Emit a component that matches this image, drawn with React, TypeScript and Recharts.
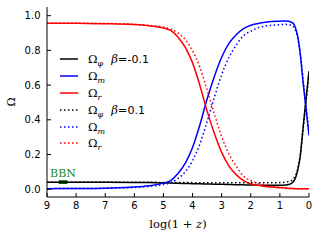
import { LineChart, Line, XAxis, YAxis, ReferenceArea, Legend } from 'recharts';

// log(1+z) sample positions
const logZ = [9, 8, 7, 6, 5.5, 5, 4.75, 4.5, 4.25, 4, 3.75, 3.5, 3.25, 3, 2.75, 2.5, 2.25, 2, 1.75, 1.5, 1.25, 1, 0.8, 0.6, 0.5, 0.4, 0.3, 0.2, 0.1, 0];

// beta = -0.1 (solid)
const omegaPhiNeg = [0.040, 0.040, 0.040, 0.039, 0.038, 0.036, 0.035, 0.034, 0.033, 0.032, 0.031, 0.030, 0.029, 0.028, 0.027, 0.026, 0.025, 0.024, 0.023, 0.022, 0.022, 0.022, 0.024, 0.034, 0.052, 0.10, 0.19, 0.36, 0.52, 0.68];
const omegaMNeg = [0.003, 0.004, 0.006, 0.012, 0.020, 0.035, 0.050, 0.090, 0.150, 0.240, 0.370, 0.520, 0.650, 0.760, 0.840, 0.890, 0.925, 0.945, 0.955, 0.962, 0.966, 0.968, 0.970, 0.962, 0.945, 0.890, 0.780, 0.610, 0.460, 0.310];
const omegaRNeg = [0.957, 0.956, 0.954, 0.949, 0.942, 0.929, 0.915, 0.876, 0.817, 0.728, 0.599, 0.450, 0.321, 0.212, 0.133, 0.084, 0.050, 0.031, 0.022, 0.016, 0.012, 0.009, 0.006, 0.004, 0.003, 0.003, 0.002, 0.002, 0.002, 0.002];

// beta = 0.1 (dotted)
const omegaPhiPos = [0.040, 0.040, 0.040, 0.040, 0.040, 0.039, 0.039, 0.038, 0.038, 0.038, 0.037, 0.037, 0.037, 0.037, 0.037, 0.037, 0.037, 0.037, 0.037, 0.037, 0.037, 0.038, 0.041, 0.050, 0.068, 0.110, 0.200, 0.350, 0.510, 0.670];
const omegaMPos = [0.003, 0.004, 0.005, 0.010, 0.016, 0.027, 0.038, 0.062, 0.100, 0.165, 0.260, 0.390, 0.530, 0.660, 0.760, 0.830, 0.885, 0.910, 0.930, 0.940, 0.945, 0.948, 0.950, 0.945, 0.928, 0.880, 0.780, 0.630, 0.480, 0.330];
const omegaRPos = [0.957, 0.956, 0.955, 0.950, 0.944, 0.934, 0.923, 0.900, 0.862, 0.797, 0.703, 0.573, 0.433, 0.303, 0.203, 0.133, 0.075, 0.050, 0.033, 0.023, 0.016, 0.011, 0.008, 0.005, 0.004, 0.003, 0.003, 0.002, 0.002, 0.002];

const xTicks = [9, 8, 7, 6, 5, 4, 3, 2, 1, 0];
const yTicks = [0, 0.2, 0.4, 0.6, 0.8, 1.0];
const bbnRange = [8.6, 8.3];
const bbnLevel = [0.03, 0.052];

const xMinorTicks: number[] = [];
for (let i = 1; i < 45; i++) if (i % 5 !== 0) xMinorTicks.push(i / 5);

const data = logZ.map((x, i) => ({
  x,
  phiNeg: omegaPhiNeg[i],
  mNeg: omegaMNeg[i],
  rNeg: omegaRNeg[i],
  phiPos: omegaPhiPos[i],
  mPos: omegaMPos[i],
  rPos: omegaRPos[i],
}));

const series = [
  { key: 'phiNeg', sub: 'φ', beta: '-0.1', color: '#000000', dash: undefined },
  { key: 'mNeg', sub: 'm', beta: null, color: '#0000ff', dash: undefined },
  { key: 'rNeg', sub: 'r', beta: null, color: '#ff0000', dash: undefined },
  { key: 'phiPos', sub: 'φ', beta: '0.1', color: '#000000', dash: '1.5 2.5' },
  { key: 'mPos', sub: 'm', beta: null, color: '#0000ff', dash: '1.5 2.5' },
  { key: 'rPos', sub: 'r', beta: null, color: '#ff0000', dash: '1.5 2.5' },
];

const serif = 'DejaVu Serif';
const sans = 'DejaVu Sans';

const renderLegend = () => (
  <div style={{ fontFamily: serif, fontSize: 11.5, color: '#000' }}>
    {series.map((s) => (
      <div key={s.key} style={{ display: 'flex', alignItems: 'center', height: 16.8, whiteSpace: 'nowrap' }}>
        <svg width={18} height={4} style={{ display: 'block' }}>
          <line x1={0} y1={2} x2={18} y2={2} stroke={s.color} strokeWidth={1.5} strokeDasharray={s.dash} />
        </svg>
        <span style={{ marginLeft: 10 }}>
          Ω
          <span style={{ fontSize: 8, fontStyle: 'italic', position: 'relative', top: 3 }}>{s.sub}</span>
          {s.beta && (
            <>
              <span style={{ fontStyle: 'italic', marginLeft: 8 }}>β</span>
              <span>=</span>
              <span style={{ fontFamily: sans, fontSize: 11 }}>{s.beta}</span>
            </>
          )}
        </span>
      </div>
    ))}
  </div>
);

const YLabel = ({ viewBox }: any) => (
  <text
    transform={`translate(15, ${viewBox.y + viewBox.height / 2}) rotate(-90)`}
    textAnchor="middle"
    fontFamily={serif}
    fontSize={11}
    fill="#000"
  >
    Ω
  </text>
);

const XLabel = ({ viewBox }: any) => (
  <text x={viewBox.x + viewBox.width / 2} y={viewBox.y + 31} textAnchor="middle" fontFamily={serif} fontSize={11.5} fill="#000">
    log(1 + <tspan fontStyle="italic">z</tspan>)
  </text>
);

const tickFont = { fontFamily: sans, fontSize: 10, fill: '#000' };
const noLabel = () => '';

const App = () => {
  return (
    <div style={{ position: 'absolute', left: 0, top: 0, width: 320, height: 240, background: '#fff' }}>
      <LineChart width={320} height={240} data={data} margin={{ top: 7, right: 11, left: 0, bottom: 0 }}>
        <XAxis
          xAxisId="minorBottom"
          type="number"
          dataKey="x"
          domain={[0, 9]}
          reversed
          ticks={xMinorTicks}
          tickFormatter={noLabel}
          tickSize={-2}
          axisLine={false}
          tickLine={{ stroke: '#000' }}
          height={0}
          allowDataOverflow
        />
        <XAxis
          xAxisId="main"
          type="number"
          dataKey="x"
          domain={[0, 9]}
          reversed
          ticks={xTicks}
          tickSize={-4}
          tickMargin={9}
          tick={tickFont}
          axisLine={{ stroke: '#000' }}
          tickLine={{ stroke: '#000' }}
          height={43}
          allowDataOverflow
          label={<XLabel />}
        />
        <XAxis
          xAxisId="top"
          orientation="top"
          type="number"
          dataKey="x"
          domain={[0, 9]}
          reversed
          ticks={xTicks}
          tickFormatter={noLabel}
          tickSize={-4}
          axisLine={{ stroke: '#000' }}
          tickLine={{ stroke: '#000' }}
          height={0}
          allowDataOverflow
        />
        <XAxis
          xAxisId="minorTop"
          orientation="top"
          type="number"
          dataKey="x"
          domain={[0, 9]}
          reversed
          ticks={xMinorTicks}
          tickFormatter={noLabel}
          tickSize={-2}
          axisLine={false}
          tickLine={{ stroke: '#000' }}
          height={0}
          allowDataOverflow
        />
        <YAxis
          yAxisId="left"
          type="number"
          domain={[-0.045, 1.05]}
          ticks={yTicks}
          tickFormatter={(v: number) => v.toFixed(1)}
          tickSize={-4}
          tickMargin={10.5}
          tick={tickFont}
          axisLine={{ stroke: '#000' }}
          tickLine={{ stroke: '#000' }}
          width={47}
          allowDataOverflow
          label={<YLabel />}
        />
        <YAxis
          yAxisId="right"
          orientation="right"
          type="number"
          domain={[-0.045, 1.05]}
          ticks={yTicks}
          tickFormatter={noLabel}
          tickSize={-4}
          axisLine={{ stroke: '#000' }}
          tickLine={{ stroke: '#000' }}
          width={0}
          allowDataOverflow
        />
        {series.map((s) => (
          <Line
            key={s.key}
            xAxisId="main"
            yAxisId="left"
            type="monotone"
            dataKey={s.key}
            stroke={s.color}
            strokeWidth={1.5}
            strokeDasharray={s.dash}
            dot={false}
            isAnimationActive={false}
          />
        ))}
        <ReferenceArea
          xAxisId="main"
          yAxisId="left"
          x1={bbnRange[0]}
          x2={bbnRange[1]}
          y1={bbnLevel[0]}
          y2={bbnLevel[1]}
          fill="#006400"
          fillOpacity={1}
          stroke="none"
          label={{ value: 'BBN', position: 'top', offset: 3, fill: '#228b22', fontFamily: serif, fontSize: 11 }}
        />
        <Legend
          layout="vertical"
          align="center"
          verticalAlign="middle"
          content={renderLegend}
          wrapperStyle={{ left: 60, top: 51, width: 'auto', height: 'auto' }}
        />
      </LineChart>
    </div>
  );
};

export default App;
